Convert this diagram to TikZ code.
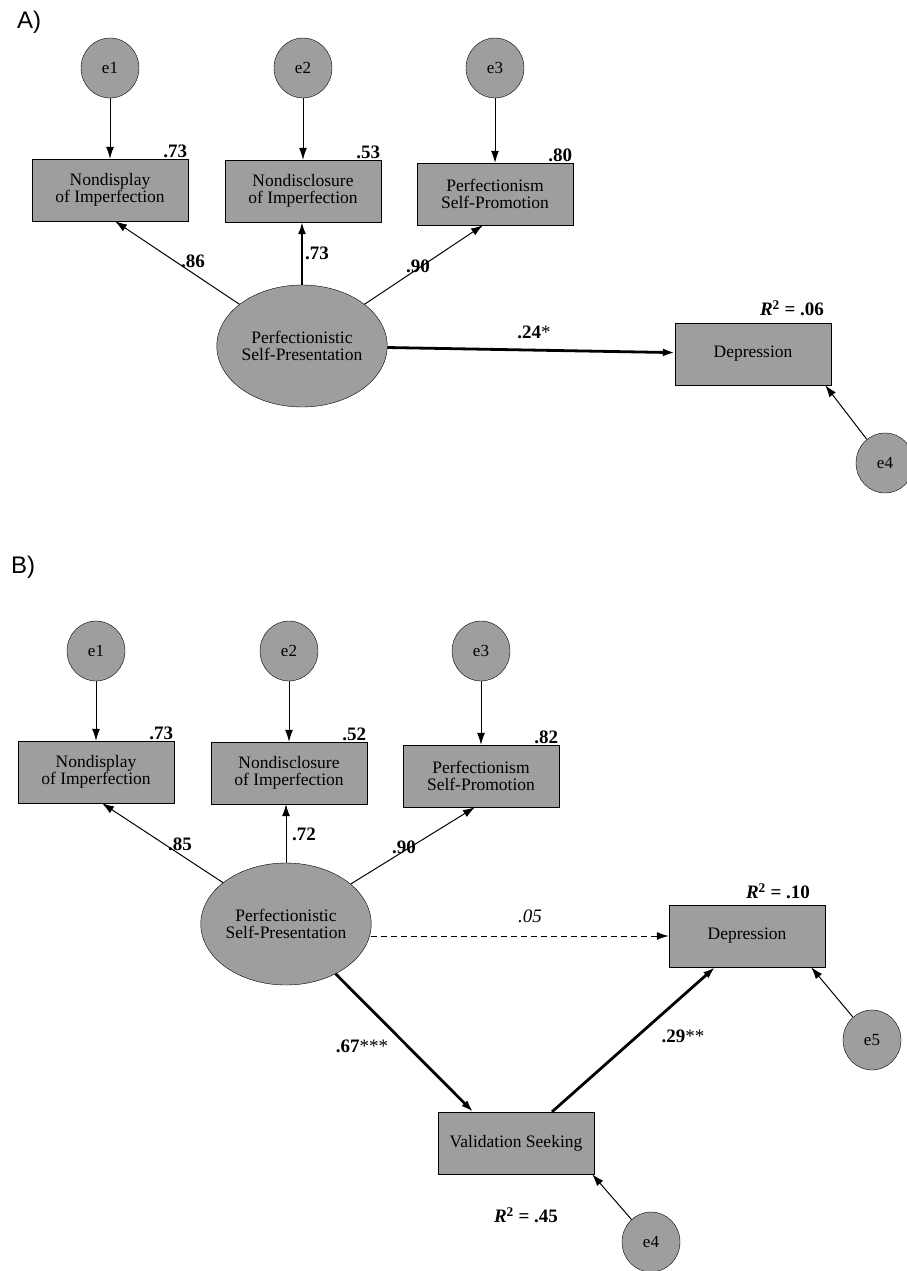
\documentclass[tikz,border=0pt]{standalone}
\usepackage{fontspec}
\setmainfont{Liberation Serif}
\newfontfamily\panelfont{Liberation Sans}
\usetikzlibrary{arrows.meta,shapes.geometric}

\begin{document}
\begin{tikzpicture}[x=1pt, y=-1pt,
  every node/.style={font=\fontsize{17.5}{17}\selectfont},
  shade/.style={draw, fill=black!38},
  obs/.style={shade, rectangle, minimum width=156pt, minimum height=62pt, align=center, inner sep=0pt},
  err/.style={shade, ellipse, minimum width=58pt, minimum height=60pt, inner sep=0pt, font=\fontsize{17}{17}\selectfont},
  lat/.style={shade, ellipse, minimum width=130pt, minimum height=122pt, align=center, inner sep=0pt},
  coef/.style={font=\bfseries\fontsize{19}{19}\selectfont, inner sep=1pt},
  link/.style={-{Latex[length=12pt,width=8pt]}, line width=1pt},
  strong/.style={link, line width=2.8pt},
  panel/.style={font=\panelfont\fontsize{24}{24}\selectfont}
]
\useasboundingbox (0,0) rectangle (907,1271);

% Panel A
\node[panel] (labA) at (29,22) {A)};
\foreach \n/\x/\y/\t/\r in {
  1/110/190/{Nondisplay\\of Imperfection}/.73,
  2/303/191/{Nondisclosure\\of Imperfection}/.53,
  3/495/194/{Perfectionism\\Self-Promotion}/.80
} {
  % indicator box with its error term
  \node[obs] (bA\n) at (\x,\y) {\t};
  \node[err] (eA\n) at (\x,68) {e\n};
  \draw[link] (eA\n) -- (bA\n);
  \node[coef, anchor=south east] (rA\n) at (bA\n.north east) {\r};
}
\node[lat] (pA) at (302,346) {Perfectionistic\\Self-Presentation};
\draw[link] (pA) -- ([xshift=5pt]bA1.south);
\draw[link, line width=1.8pt] (pA.north) -- (pA.north |- bA2.south);
\draw[link] (pA) -- ([xshift=-12pt]bA3.south);
\node[coef] (kA1) at (193,261) {.86};
\node[coef] (kA2) at (317,253) {.73};
\node[coef] (kA3) at (418,266) {.90};

\node[obs] (dA) at (753,354) {Depression};
\node[coef] (qA) at (792,308) {\textit{R}\textsuperscript{2} = .06};
\draw[strong] (pA) -- (dA);
\node[coef] (kA4) at (534,332) {.24\textmd{*}};
\node[err] (eA4) at (885,463) {e4};
\draw[link] (eA4) -- ([xshift=-6pt]dA.south east);

% Panel B
\node[panel] (labB) at (23,567) {B)};
\foreach \n/\x/\y/\t/\r in {
  1/96/772/{Nondisplay\\of Imperfection}/.73,
  2/289/773/{Nondisclosure\\of Imperfection}/.52,
  3/481/776/{Perfectionism\\Self-Promotion}/.82
} {
  \node[obs] (bB\n) at (\x,\y) {\t};
  \node[err] (eB\n) at (\x,651) {e\n};
  \draw[link] (eB\n) -- (bB\n);
  \node[coef, anchor=south east] (rB\n) at (bB\n.north east) {\r};
}
\node[lat] (pB) at (286,924) {Perfectionistic\\Self-Presentation};
\draw[link] (pB) -- ([xshift=6pt]bB1.south);
\draw[link] (pB.north) -- (pB.north |- bB2.south);
\draw[link] (pB) -- ([xshift=-6pt]bB3.south);
\node[coef] (kB1) at (180,844) {.85};
\node[coef] (kB2) at (304,834) {.72};
\node[coef] (kB3) at (404,847) {.90};

\node[obs] (dB) at (747,936) {Depression};
\node[coef] (qB) at (778,891) {\textit{R}\textsuperscript{2} = .10};
\draw[link, dash pattern=on 6pt off 4pt] (pB.east |- dB.west) -- (dB.west);
\node[coef, font=\itshape\fontsize{19}{19}\selectfont] (kB4) at (530,916) {.05};

\node[obs] (vB) at (516,1143) {Validation Seeking};
\node[coef] (qC) at (526,1215) {\textit{R}\textsuperscript{2} = .45};
\draw[strong] (pB) -- ([xshift=-43pt]vB.north);
\node[coef] (kB5) at (362,1046) {.67\textmd{***}};
\draw[strong] ([xshift=36pt]vB.north) -- ([xshift=-32pt]dB.south);
\node[coef] (kB6) at (683,1036) {.29\textmd{**}};

\node[err] (eB4) at (651,1242) {e4};
\draw[link] (eB4) -- ([xshift=-2pt]vB.south east);
\node[err] (eB5) at (872,1040) {e5};
\draw[link] (eB5) -- ([xshift=-14pt]dB.south east);
\end{tikzpicture}
\end{document}
